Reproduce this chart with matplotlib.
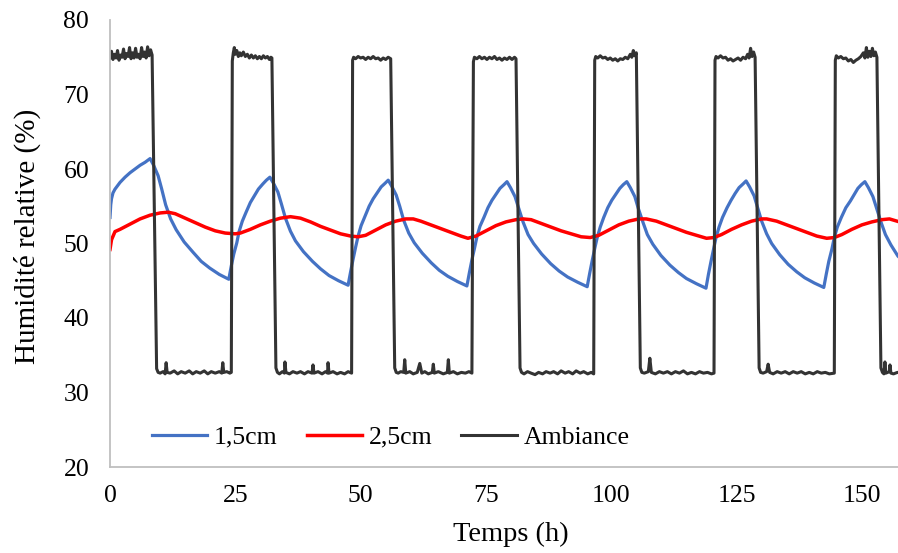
import matplotlib.pyplot as plt

# Humidité relative (%)
t_15 = [0, 0.15, 0.3, 0.6, 1.0, 2, 3, 4, 5, 6, 7, 8.0,
        8.7, 9.6, 10.3, 11.1, 12.1, 13.2, 14.8, 16.6, 18.2, 19.9, 21.8, 23.7,
        24.2, 24.7, 25.3, 25.75, 26.4, 27.15, 28.0, 28.8, 29.6, 30.5, 31.2, 31.9,
        32.6, 33.5, 34.2, 35.0, 36.0, 37.0, 38.6, 40.4, 42.0, 43.7, 45.6, 47.5,
        48.0, 48.5, 49.0, 49.5, 50.1, 50.9, 51.7, 52.5, 53.3, 54.1, 54.9, 55.5,
        56.2, 57.1, 57.8, 58.6, 59.6, 60.7, 62.3, 64.1, 65.7, 67.4, 69.3, 71.2,
        71.7, 72.2, 72.7, 73.2, 73.8, 74.6, 75.4, 76.2, 77.0, 77.8, 78.6, 79.2,
        79.9, 80.8, 81.5, 82.4, 83.4, 84.5, 86.1, 87.9, 89.6, 91.3, 93.3, 95.2,
        95.7, 96.2, 96.7, 97.2, 97.8, 98.5, 99.3, 100.1, 100.9, 101.7, 102.4, 103.1,
        103.8, 104.7, 105.4, 106.3, 107.2, 108.3, 109.9, 111.7, 113.4, 115.0, 117.0, 118.9,
        119.4, 119.9, 120.4, 120.9, 121.5, 122.2, 123.1, 123.9, 124.7, 125.5, 126.3, 126.9,
        127.6, 128.5, 129.2, 130.0, 131.0, 132.0, 133.6, 135.3, 137.0, 138.6, 140.5, 142.4,
        142.9, 143.4, 144.0, 144.5, 145.1, 145.9, 146.8, 147.7, 148.5, 149.2, 149.9, 150.6,
        151.3, 152.2, 152.9, 153.8, 154.7, 155.8, 157.2, 158.0]
rh_15 = [53.5, 55.2, 56.0, 56.8, 57.3, 58.2, 58.9, 59.5, 60.0, 60.5, 60.9, 61.4,
         60.5, 59.1, 57.35, 55.2, 53.3, 51.85, 50.2, 48.8, 47.6, 46.7, 45.85, 45.2,
         47.0, 48.6, 50.1, 51.6, 53.0, 54.2, 55.5, 56.4, 57.3, 58.0, 58.5, 58.9,
         58.1, 56.9, 55.3, 53.4, 51.65, 50.35, 48.9, 47.6, 46.6, 45.7, 45.0, 44.4,
         46.2, 47.9, 49.5, 51.0, 52.4, 53.7, 55.0, 56.0, 56.8, 57.6, 58.1, 58.5,
         57.7, 56.5, 55.0, 53.1, 51.4, 50.1, 48.7, 47.4, 46.4, 45.6, 44.9, 44.3,
         46.1, 47.8, 49.3, 50.9, 52.3, 53.5, 54.8, 55.8, 56.6, 57.4, 57.9, 58.3,
         57.5, 56.3, 54.8, 52.9, 51.2, 50.0, 48.6, 47.3, 46.3, 45.5, 44.8, 44.2,
         46.0, 47.7, 49.3, 50.8, 52.2, 53.5, 54.8, 55.8, 56.6, 57.4, 57.9, 58.3,
         57.5, 56.3, 54.7, 52.9, 51.2, 49.9, 48.4, 47.1, 46.1, 45.3, 44.6, 44.0,
         45.9, 47.6, 49.2, 50.8, 52.2, 53.5, 54.8, 55.8, 56.7, 57.5, 58.0, 58.4,
         57.6, 56.4, 54.8, 53.0, 51.3, 50.0, 48.5, 47.2, 46.2, 45.4, 44.7, 44.1,
         45.9, 47.6, 49.2, 50.8, 52.2, 53.5, 54.8, 55.7, 56.6, 57.4, 57.9, 58.3,
         57.5, 56.3, 54.8, 52.9, 51.2, 49.8, 48.3, 47.8]

t_25 = [0, 0.3, 1.0, 2.0, 4, 6, 8, 10, 11.6, 13, 15, 17, 19, 21, 23, 25, 26,
        28, 30, 32, 34, 36, 38, 40, 42, 44, 46, 48, 49.5,
        51, 53, 55, 57, 59, 60.5, 62, 64, 66, 68, 70, 71.4,
        73, 75, 77, 79, 81, 82.4, 84, 86, 88, 90, 92, 94, 95.8,
        97.5, 99.5, 101.5, 103.5, 105.5, 107, 109, 111, 113, 115, 117, 119,
        120.5, 122, 124, 126, 128, 130, 131, 133, 135, 137, 139, 141, 143,
        144.5, 146, 148, 150, 152, 154, 155.5, 157, 158]
rh_25 = [49.2, 50.5, 51.6, 51.9, 52.6, 53.3, 53.8, 54.1, 54.2, 54.0, 53.4, 52.8, 52.2, 51.7, 51.4, 51.3, 51.4,
         51.9, 52.5, 53.0, 53.4, 53.6, 53.4, 52.9, 52.3, 51.8, 51.3, 51.0, 50.9,
         51.1, 51.8, 52.5, 53.0, 53.3, 53.3, 53.0, 52.5, 52.0, 51.5, 51.0, 50.7,
         51.0, 51.7, 52.4, 52.9, 53.2, 53.3, 53.2, 52.7, 52.2, 51.7, 51.3, 50.9, 50.8,
         51.1, 51.8, 52.5, 53.0, 53.3, 53.3, 53.0, 52.5, 52.0, 51.5, 51.1, 50.7,
         50.8, 51.2, 51.9, 52.5, 53.0, 53.3, 53.3, 53.0, 52.5, 52.0, 51.5, 51.0, 50.7,
         50.8, 51.2, 51.9, 52.5, 52.9, 53.2, 53.3, 53.0, 52.8]

t_amb = [0.0, 0.3, 0.6, 0.9, 1.2, 1.5, 1.8, 2.1, 2.4, 2.7, 3.0, 3.3, 3.6, 3.9, 4.2, 4.5, 4.8,
         5.1, 5.4, 5.7, 6.0, 6.3, 6.6, 6.9, 7.2, 7.5, 7.8, 8.1, 8.4,
         9.3, 9.6, 10.0, 10.6, 11.0, 11.2, 11.4, 12.0, 12.8, 13.5, 14.2, 15.0, 15.8, 16.5,
         17.2, 18.0, 18.8, 19.5, 20.2, 21.0, 21.8, 22.3, 22.5, 22.7, 23.3, 23.9, 24.2,
         24.4, 24.6, 24.8, 25.0, 25.3, 25.6, 25.9, 26.2, 26.6, 27.0, 27.4, 27.8, 28.2, 28.6,
         29.0, 29.4, 29.8, 30.2, 30.6, 31.0, 31.4, 31.8, 32.1, 32.3,
         33.1, 33.4, 33.8, 34.4, 34.8, 34.9, 35.1, 35.8, 36.5, 37.3, 38.0, 38.8, 39.5, 40.3,
         40.5, 40.7, 41.5, 42.3, 43.0, 43.4, 43.5, 43.7, 44.5, 45.3, 46.0, 46.8, 47.5, 48.2,
         48.4, 48.6, 49.0, 49.5, 50.0, 50.5, 51.0, 51.5, 52.0, 52.5, 53.0, 53.5, 54.0, 54.5,
         55.0, 55.5, 56.0,
         56.8, 57.1, 57.5, 58.0, 58.6, 58.8, 59.0, 59.8, 60.5, 61.3, 61.8, 62.2, 62.8, 63.5,
         64.3, 64.5, 64.7, 65.5, 66.5, 67.3, 67.5, 67.7, 68.5, 69.3, 70.1, 70.9, 71.6, 72.2,
         72.5, 72.7, 73.2, 73.7, 74.2, 74.7, 75.2, 75.7, 76.2, 76.7, 77.2, 77.7, 78.2, 78.7,
         79.2, 79.7, 80.2, 80.7, 81.0,
         81.8, 82.1, 82.6, 83.3, 84.0, 84.8, 85.5, 86.3, 87.0, 87.8, 88.5, 89.3, 90.0, 90.8,
         91.5, 92.3, 93.0, 93.8, 94.5, 95.3, 96.0, 96.5,
         96.7, 96.9, 97.3, 97.8, 98.3, 98.8, 99.3, 99.8, 100.3, 100.8, 101.3, 101.8, 102.3,
         102.8, 103.3, 103.8, 104.1, 104.4, 104.7, 105.0,
         105.8, 106.1, 106.6, 107.4, 107.7, 108.0, 108.8, 109.6, 110.4, 111.2, 112.0, 112.8,
         113.6, 114.4, 115.2, 116.0, 116.8, 117.6, 118.4, 119.2, 120.0, 120.5,
         120.7, 120.9, 121.3, 121.8, 122.3, 122.8, 123.3, 123.8, 124.3, 124.8, 125.3, 125.8,
         126.3, 126.8, 127.2, 127.5, 127.8, 128.1, 128.4, 128.7,
         129.5, 129.8, 130.3, 131.0, 131.3, 131.6, 132.3, 133.1, 133.9, 134.7, 135.5, 136.3,
         137.1, 137.9, 138.7, 139.5, 140.3, 141.1, 141.9, 142.7, 143.5, 144.5,
         144.7, 144.9, 145.3, 145.8, 146.3, 146.8, 147.3, 147.8, 148.3, 148.8, 149.3, 149.8,
         150.3, 150.6, 150.9, 151.2, 151.5, 151.8, 152.1, 152.4, 152.7, 153.0,
         153.8, 154.1, 154.4, 154.6, 154.8, 155.5, 155.6, 155.8, 156.3, 157.1, 158.0]
rh_amb = [74.9, 75.8, 74.7, 75.4, 74.9, 75.9, 74.6, 75.3, 75.0, 76.1, 74.8, 75.5, 75.1, 76.3, 74.8, 75.6, 74.9,
          76.2, 75.0, 75.4, 74.8, 76.3, 75.1, 75.7, 74.9, 76.4, 75.2, 76.0, 75.3,
          33.2, 32.7, 32.6, 32.8, 32.5, 34.0, 32.7, 32.6, 32.9, 32.5, 32.8, 32.6, 32.9, 32.5,
          32.8, 32.6, 32.9, 32.5, 32.8, 32.6, 32.8, 32.6, 34.0, 32.7, 32.8, 32.6, 32.7,
          74.5, 75.6, 76.3, 75.4, 75.9, 75.1, 75.6, 75.2, 75.7, 75.1, 75.4, 74.9, 75.3, 74.9,
          75.2, 74.8, 75.1, 74.8, 75.2, 74.9, 75.1, 74.7, 75.0, 74.9,
          33.3, 32.7, 32.5, 32.8, 32.6, 34.1, 32.7, 32.5, 32.8, 32.6, 32.8, 32.5, 32.8, 32.6,
          33.7, 32.6, 32.8, 32.5, 32.8, 32.6, 34.0, 32.6, 32.8, 32.5, 32.7, 32.5, 32.8, 32.6,
          74.6, 75.0, 74.8, 75.1, 74.9, 75.0, 74.7, 75.0, 74.8, 75.1, 74.8, 74.9, 74.6, 74.9,
          74.7, 75.0, 74.8,
          33.3, 32.7, 32.6, 32.8, 32.7, 34.4, 32.6, 32.8, 32.5, 32.7, 33.9, 32.6, 32.8, 32.5,
          32.7, 33.8, 32.6, 32.8, 32.5, 32.7, 34.4, 32.6, 32.8, 32.5, 32.7, 32.6, 32.8, 32.6,
          74.4, 75.0, 74.8, 75.1, 74.8, 75.0, 74.7, 75.0, 74.8, 75.1, 74.7, 74.9, 74.6, 74.9,
          74.7, 75.0, 74.7, 75.0, 74.8,
          33.3, 32.7, 32.5, 32.8, 32.6, 32.4, 32.7, 32.5, 32.8, 32.6, 32.8, 32.5, 32.9, 32.6,
          32.8, 32.5, 32.9, 32.6, 32.8, 32.5, 32.7, 32.5,
          74.6, 75.1, 74.9, 75.2, 74.9, 75.0, 74.7, 74.9, 74.6, 74.8, 74.5, 74.8, 74.7,
          75.0, 74.8, 75.4, 75.0, 75.9, 75.2, 75.6,
          33.3, 32.7, 32.6, 32.8, 34.6, 32.7, 32.5, 32.8, 32.6, 32.8, 32.5, 32.8,
          32.6, 32.9, 32.5, 32.7, 32.5, 32.8, 32.6, 32.7, 32.5, 32.6,
          74.6, 75.1, 74.9, 75.2, 74.9, 75.0, 74.6, 74.8, 74.5, 74.7, 74.9, 74.6,
          75.0, 74.8, 75.4, 74.9, 76.2, 75.1, 75.7, 75.0,
          33.3, 32.7, 32.6, 32.8, 33.8, 32.7, 32.5, 32.8, 32.6, 32.8, 32.5, 32.8,
          32.6, 32.8, 32.5, 32.7, 32.5, 32.8, 32.6, 32.7, 32.5, 32.6,
          74.6, 75.2, 74.9, 75.1, 74.8, 74.9, 74.5, 74.7, 74.3, 74.6, 74.8, 75.1,
          75.6, 74.9, 76.3, 75.0, 75.8, 75.1, 76.2, 75.2, 75.7, 75.0,
          33.3, 32.7, 32.5, 34.1, 32.6, 32.8, 33.7, 32.6, 32.5, 32.7, 32.6]

x_ticks = [0, 25, 50, 75, 100, 125, 150]
y_ticks = [20, 30, 40, 50, 60, 70, 80]

plt.rcParams['font.family'] = ['Liberation Serif', 'DejaVu Serif']

fig = plt.figure(figsize=(8.98, 5.53), dpi=100)
ax = fig.add_axes([110 / 898, 86 / 553, 802 / 898, 447 / 553])

ax.plot(t_15, rh_15, color='#4472C4', lw=2.3, label='1,5cm')
ax.plot(t_25, rh_25, color='#FF0000', lw=2.5, label='2,5cm')
ax.plot(t_amb, rh_amb, color='#333333', lw=2.2, label='Ambiance')

ax.set_xlim(0, 160)
ax.set_ylim(20, 80)
ax.set_xticks(x_ticks)
ax.set_yticks(y_ticks)
ax.tick_params(axis='both', length=0, labelsize=18.5, colors='#000000')
ax.tick_params(axis='x', pad=13)
ax.tick_params(axis='y', pad=15)

for s in ['top', 'right']:
    ax.spines[s].set_visible(False)
for s in ['left', 'bottom']:
    ax.spines[s].set_color('#BFBFBF')
    ax.spines[s].set_linewidth(1.3)

ax.set_xlabel('Temps (h)', fontsize=20.5, labelpad=11)
ax.set_ylabel('Humidité relative (%)', fontsize=21)
ax.yaxis.set_label_coords(-0.086, 0.515)

ax.legend(loc='center', bbox_to_anchor=(0.350, 0.067), ncol=3, frameon=False,
          fontsize=18.5, handlelength=2.15, handletextpad=0.27, columnspacing=1.13)

fig.savefig('out.png', dpi=100)
